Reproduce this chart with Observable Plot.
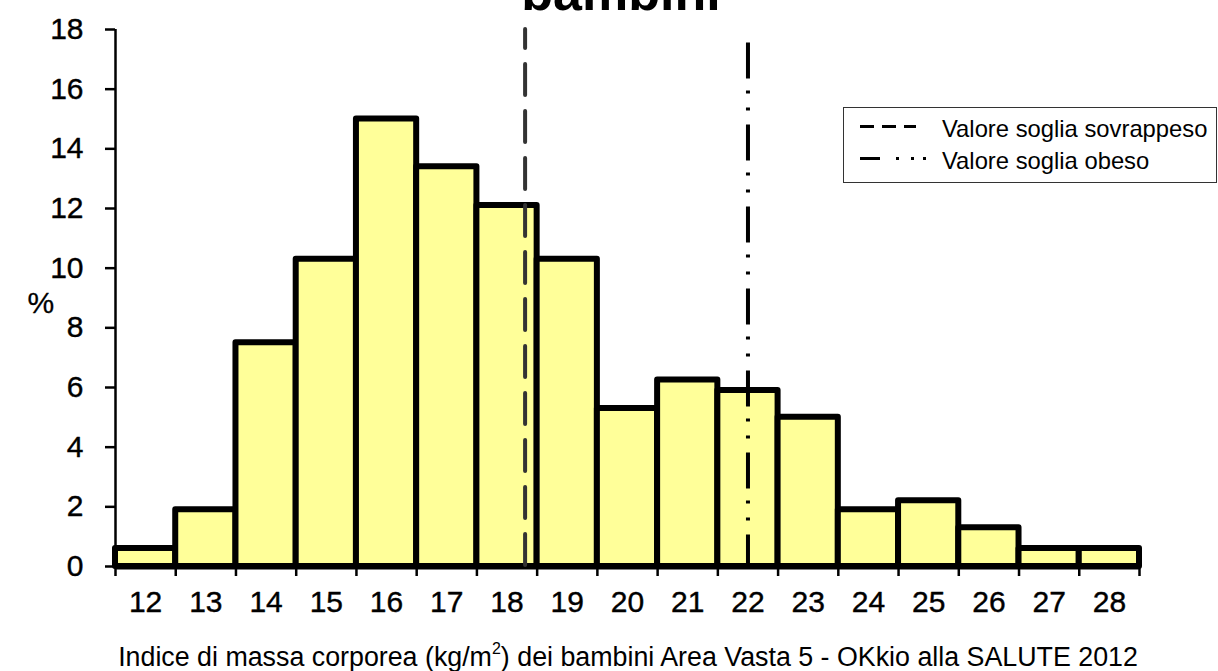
<!DOCTYPE html>
<html>
<head>
<meta charset="utf-8">
<script src="https://cdn.jsdelivr.net/npm/d3@7"></script>
<script src="https://cdn.jsdelivr.net/npm/@observablehq/plot@0.6"></script>
<style>
  body { margin: 0; background: white; font-family: "Liberation Sans", Arial, sans-serif; }
  #wrap { position: relative; width: 1218px; height: 671px; overflow: hidden; }
  #legend { position: absolute; left: 843px; top: 107px; width: 372px; height: 74px;
            border: 1.5px solid #333; background: white; box-sizing: content-box; }
  #legend .row { position: absolute; left: 0; font-size: 23.8px; line-height: 1; color: #000; white-space: nowrap; }
  #legend svg { position: absolute; left: 14px; }
  #caption { position: absolute; left: 0; width: 1256px; top: 642px; text-align: center;
             font-size: 26.8px; line-height: 1.15; color: #000; white-space: nowrap; }
  #caption sup { font-size: 16px; vertical-align: 0; position: relative; top: -12px; }
</style>
</head>
<body>
<div id="wrap"></div>
<script>
// BMI classes (kg/m^2) and percentages
const categories = [12, 13, 14, 15, 16, 17, 18, 19, 20, 21, 22, 23, 24, 25, 26, 27, 28];
const percent    = [0.6, 1.9, 7.5, 10.3, 15.0, 13.4, 12.1, 10.3, 5.3, 6.25, 5.9, 5.0, 1.9, 2.2, 1.3, 0.6, 0.6];
const yTicks = [0, 2, 4, 6, 8, 10, 12, 14, 16, 18];
const thresholdOverweight = 18.3;
const thresholdObese = 22.0;
const obeseTop = 17.55;
const titleText = "bambini";
const yLabel = "%";
const legendLabels = ["Valore soglia sovrappeso", "Valore soglia obeso"];

const bins = categories.map((c, i) => ({c, v: percent[i]}));
const edges = d3.range(categories[0] - 0.5, categories[categories.length - 1] + 1, 1);

const font = '"Liberation Sans", Arial, sans-serif';

const plot = Plot.plot({
  width: 1218,
  height: 671,
  marginLeft: 115,
  marginRight: 79,
  marginTop: 29,
  marginBottom: 105,
  style: {fontFamily: font, background: "white", color: "black", overflow: "visible"},
  x: {type: "linear", domain: [categories[0] - 0.5, categories[categories.length - 1] + 0.5], axis: null, label: null},
  y: {type: "linear", domain: [0, 18], axis: null, label: null},
  marks: [
    Plot.rectY(bins, {x1: d => d.c - 0.5, x2: d => d.c + 0.5, y1: 0, y2: d => d.v,
      fill: "#FFFF99", stroke: "black", strokeWidth: 6, strokeLinejoin: "round"}),
    // axis lines
    Plot.ruleY([0], {stroke: "black", strokeWidth: 6}),
    Plot.ruleX([categories[0] - 0.5], {y1: 0, y2: 18, stroke: "black", strokeWidth: 2.5}),
    // y ticks
    Plot.axisY(yTicks, {tickSize: 10, tickFormat: () => "", strokeWidth: 2.5, anchor: "left", label: null}),
    // y labels
    Plot.text(yTicks, {y: d => d, frameAnchor: "left", dx: -32, textAnchor: "end",
      text: d => String(d), fontSize: 30, fill: "black", stroke: "black", strokeWidth: 0.4}),
    // x ticks at bin edges
    Plot.axisX(edges, {tickSize: 10, tickFormat: () => "", strokeWidth: 2.5, anchor: "bottom", label: null}),
    // x labels at bin centres
    Plot.text(categories, {x: d => d, frameAnchor: "bottom", dy: 36, lineAnchor: "middle",
      text: d => String(d), fontSize: 30, fill: "black", stroke: "black", strokeWidth: 0.4}),
    // y label
    Plot.text([yLabel], {frameAnchor: "left", dx: -88, dy: 5, fontSize: 30, text: d => d, fill: "black",
      stroke: "black", strokeWidth: 0.3}),
    // thresholds
    Plot.ruleX([thresholdOverweight], {y1: 18, y2: 0, stroke: "#333", strokeWidth: 4,
      strokeDasharray: "31,16", strokeDashoffset: 12, strokeLinecap: "round"}),
    Plot.ruleX([thresholdObese], {y1: obeseTop, y2: 0, stroke: "black", strokeWidth: 4,
      strokeDasharray: "36,12,3,14,3,14", strokeLinecap: "butt"}),
    // title (partly cut off at the top, as in the source)
    Plot.text([titleText], {frameAnchor: "top", dy: -20, lineAnchor: "bottom", dx: -6.5,
      fontSize: 52, fontWeight: "bold", text: d => d, fill: "black"})
  ]
});

const wrap = document.getElementById("wrap");
wrap.appendChild(plot);

const legend = document.createElement("div");
legend.id = "legend";
legend.innerHTML = `
  <svg width="90" height="74" style="top:0">
    <line x1="2" x2="58" y1="18.5" y2="18.5" stroke="black" stroke-width="3" stroke-dasharray="14,8"></line>
    <line x1="2" x2="22" y1="50.5" y2="50.5" stroke="black" stroke-width="3"></line>
    <line x1="38" x2="41" y1="50.5" y2="50.5" stroke="black" stroke-width="3"></line>
    <line x1="53" x2="56" y1="50.5" y2="50.5" stroke="black" stroke-width="3"></line>
    <line x1="65" x2="68" y1="50.5" y2="50.5" stroke="black" stroke-width="3"></line>
  </svg>
  <div class="row" style="left:98px; top:9px">${legendLabels[0]}</div>
  <div class="row" style="left:98px; top:41px">${legendLabels[1]}</div>`;
wrap.appendChild(legend);

const caption = document.createElement("div");
caption.id = "caption";
caption.innerHTML = "Indice di massa corporea (kg/m<sup>2</sup>) dei bambini Area Vasta 5 - OKkio alla SALUTE 2012";
wrap.appendChild(caption);
</script>
</body>
</html>
